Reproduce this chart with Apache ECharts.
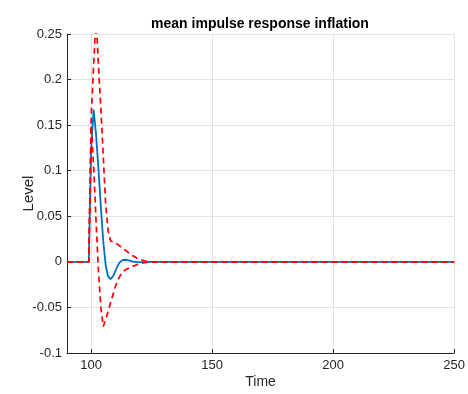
<!DOCTYPE html>
<html>
<head>
<meta charset="utf-8">
<script src="https://cdn.jsdelivr.net/npm/echarts@6/dist/echarts.min.js"></script>
<style>html,body{margin:0;padding:0;background:#fff;}#c{width:468px;height:394px;}</style>
</head>
<body>
<div id="c"></div>
<script>
// Time points (x values)
var time = [90, 99, 100, 101, 102, 103, 104, 105, 106, 107, 108, 109, 110, 111, 112, 113, 114, 115, 116, 117, 118, 119, 120, 121, 122, 123, 124, 125, 126, 250];
// Mean impulse response (blue)
var meanResp = [0, 0, 0.125, 0.167, 0.14, 0.102, 0.06, 0.022, -0.004, -0.016, -0.019, -0.016, -0.010, -0.004, 0.0, 0.002, 0.0023, 0.002, 0.0013, 0.0006, 0.0001, -0.0002, -0.0003, -0.0003, -0.0002, -0.0001, 0, 0, 0, 0];
// Upper band (red dashed)
var upperBand = [0, 0, 0.16, 0.215, 0.27, 0.215, 0.168, 0.115, 0.062, 0.034, 0.023, 0.022, 0.0205, 0.019, 0.017, 0.015, 0.013, 0.011, 0.009, 0.007, 0.0055, 0.004, 0.003, 0.002, 0.0012, 0.0007, 0.0003, 0.0001, 0, 0];
// Lower band (red dashed)
var lowerBand = [0, 0, 0.15, 0.105, 0.045, -0.01, -0.05, -0.071, -0.063, -0.054, -0.045, -0.036, -0.027, -0.02, -0.015, -0.011, -0.009, -0.0075, -0.006, -0.005, -0.004, -0.003, -0.0022, -0.0015, -0.001, -0.0005, -0.0002, 0, 0, 0];
// Axis settings
var xMin = 90, xMax = 250;
var yMin = -0.1, yMax = 0.25, yStep = 0.05;

function pairs(vals) { return time.map(function (t, i) { return [t, vals[i]]; }); }

var font = '"Liberation Sans", Arial, Helvetica, sans-serif';
var ink = '#262626';
var chart = echarts.init(document.getElementById('c'), null, {renderer: 'canvas'});
chart.setOption({
  animation: false,
  backgroundColor: '#ffffff',
  title: {
    text: 'mean impulse response inflation',
    left: 255, top: 12, textAlign: 'center',
    textStyle: {fontFamily: font, fontSize: 14, fontWeight: 'bold', color: '#000'}
  },
  grid: {left: 67, right: 11, top: 34, bottom: 40, containLabel: false},
  xAxis: {
    type: 'value', min: xMin, max: xMax, splitNumber: 4,
    name: 'Time', nameLocation: 'middle', nameGap: 22, nameMoveOverlap: false,
    nameTextStyle: {fontFamily: font, fontSize: 14, color: ink},
    axisLine: {show: true, onZero: false, lineStyle: {color: ink, width: 1}},
    axisTick: {show: true, inside: true, length: 4, lineStyle: {color: ink}},
    axisLabel: {showMinLabel: false, fontFamily: font, fontSize: 13, color: ink, margin: 6},
    splitLine: {show: true, lineStyle: {color: '#e3e3e3', width: 1}}
  },
  yAxis: {
    type: 'value', min: yMin, max: yMax, interval: yStep,
    name: 'Level', nameLocation: 'middle', nameGap: 31, nameRotate: 90, nameMoveOverlap: false,
    nameTextStyle: {fontFamily: font, fontSize: 15, color: ink},
    axisLine: {show: true, onZero: false, lineStyle: {color: ink, width: 1}},
    axisTick: {show: true, inside: true, length: 4, lineStyle: {color: ink}},
    axisLabel: {fontFamily: font, fontSize: 13, color: ink, margin: 5,
      formatter: function (v) { return String(+v.toFixed(4)); }},
    splitLine: {show: true, lineStyle: {color: '#e3e3e3', width: 1}}
  },
  series: [
    {type: 'line', data: pairs(meanResp), showSymbol: false, clip: true,
      lineStyle: {color: '#0072BD', width: 1.8}, z: 2},
    {type: 'line', data: pairs(upperBand), showSymbol: false, clip: true,
      lineStyle: {color: '#ff0000', width: 1.7, type: [6, 4]}, z: 3},
    {type: 'line', data: pairs(lowerBand), showSymbol: false, clip: true,
      lineStyle: {color: '#ff0000', width: 1.7, type: [6, 4]}, z: 3}
  ]
});
</script>
</body>
</html>
